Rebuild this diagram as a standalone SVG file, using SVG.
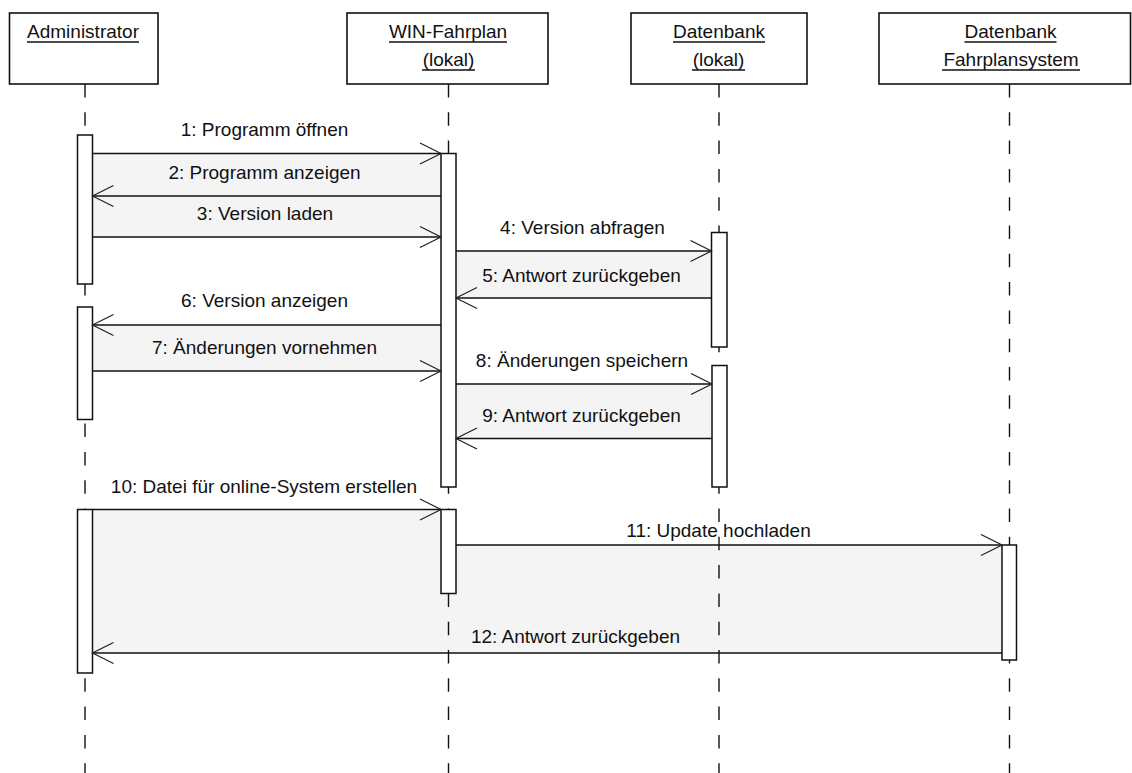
<svg xmlns="http://www.w3.org/2000/svg" width="1132" height="773" viewBox="0 0 1132 773">
<style>
  text { font-family: "Liberation Sans", Arial, sans-serif; font-size: 19px; fill: #111; }
  .box { fill: #fff; stroke: #111; stroke-width: 1.6; }
  .ul { stroke: #111; stroke-width: 1.3; }
  .life { stroke: #111; stroke-width: 1.4; stroke-dasharray: 13.5 14.8; fill: none; }
  .act { fill: #fff; stroke: #111; stroke-width: 1.5; }
  .band { fill: #f4f4f4; stroke: none; }
  .msg { stroke: #111; stroke-width: 1.5; fill: none; marker-end: url(#open); }
</style>
<defs>
  <marker id="open" markerUnits="userSpaceOnUse" markerWidth="24" markerHeight="24" viewBox="-1 -1 24 24" refX="21" refY="10.5" orient="auto">
    <path d="M0,0 L21,10.5 L0,21" fill="none" stroke="#222" stroke-width="1.2"/>
  </marker>
</defs>
<rect x="0" y="0" width="1132" height="773" fill="#fff"/>

<g id="message-bands">
  <rect class="band" x="92.5" y="153.5" width="348.5" height="83.5"/>
  <rect class="band" x="456" y="251" width="255.5" height="47"/>
  <rect class="band" x="92.5" y="325" width="348.5" height="46"/>
  <rect class="band" x="456" y="384" width="256" height="54.5"/>
  <rect class="band" x="92.5" y="509.5" width="348.5" height="143.5"/>
  <rect class="band" x="441" y="545" width="561" height="108"/>
</g>

<g id="administrator">
  <line class="life" x1="85" y1="84" x2="85" y2="773"/>
  <rect class="box" x="9.5" y="13" width="148.5" height="71"/>
  <text x="83" y="38" text-anchor="middle">Administrator</text>
  <line class="ul" x1="27" y1="42" x2="139" y2="42"/>
  <rect class="act" x="77.5" y="135" width="15" height="149"/>
  <rect class="act" x="77.5" y="307" width="15" height="112.5"/>
  <rect class="act" x="77.5" y="509.5" width="15" height="163.5"/>
</g>

<g id="win-fahrplan">
  <line class="life" x1="448.5" y1="84" x2="448.5" y2="773"/>
  <rect class="box" x="347" y="13" width="201" height="71"/>
  <text x="448" y="38" text-anchor="middle">WIN-Fahrplan</text>
  <line class="ul" x1="389" y1="42" x2="507" y2="42"/>
  <text x="448.5" y="66" text-anchor="middle">(lokal)</text>
  <line class="ul" x1="422" y1="70" x2="475" y2="70"/>
  <rect class="act" x="441" y="153.5" width="15" height="333.5"/>
  <rect class="act" x="441" y="509.5" width="15" height="84"/>
</g>

<g id="datenbank-lokal">
  <line class="life" x1="719" y1="84" x2="719" y2="773"/>
  <rect class="box" x="631" y="13" width="176" height="71"/>
  <text x="719" y="38" text-anchor="middle">Datenbank</text>
  <line class="ul" x1="673" y1="42" x2="765" y2="42"/>
  <text x="718.5" y="66" text-anchor="middle">(lokal)</text>
  <line class="ul" x1="692" y1="70" x2="745" y2="70"/>
  <rect class="act" x="711.5" y="232.5" width="15.5" height="114.5"/>
  <rect class="act" x="712" y="365.5" width="15" height="121.5"/>
</g>

<g id="datenbank-fahrplansystem">
  <line class="life" x1="1009.5" y1="84" x2="1009.5" y2="773"/>
  <rect class="box" x="879" y="13" width="251.5" height="71"/>
  <text x="1010.5" y="38" text-anchor="middle">Datenbank</text>
  <line class="ul" x1="964.5" y1="42" x2="1056.5" y2="42"/>
  <text x="1011" y="66" text-anchor="middle">Fahrplansystem</text>
  <line class="ul" x1="942" y1="70" x2="1080" y2="70"/>
  <rect class="act" x="1002" y="545" width="14.5" height="115"/>
</g>

<g id="connectors">
  <line class="msg" x1="92.5" y1="153.5" x2="441" y2="153.5"/>
  <text x="264.5" y="136" text-anchor="middle">1: Programm öffnen</text>
  <line class="msg" x1="441" y1="196" x2="92.5" y2="196"/>
  <text x="264.5" y="179" text-anchor="middle">2: Programm anzeigen</text>
  <line class="msg" x1="92.5" y1="237" x2="441" y2="237"/>
  <text x="265" y="220" text-anchor="middle">3: Version laden</text>
  <line class="msg" x1="456" y1="251" x2="711.5" y2="251"/>
  <text x="582.5" y="234" text-anchor="middle">4: Version abfragen</text>
  <line class="msg" x1="711.5" y1="298" x2="456" y2="298"/>
  <text x="581.5" y="281.5" text-anchor="middle">5: Antwort zurückgeben</text>
  <line class="msg" x1="441" y1="325" x2="92.5" y2="325"/>
  <text x="264.5" y="307" text-anchor="middle">6: Version anzeigen</text>
  <line class="msg" x1="92.5" y1="371" x2="441" y2="371"/>
  <text x="264.5" y="354" text-anchor="middle">7: Änderungen vornehmen</text>
  <line class="msg" x1="456" y1="384" x2="712" y2="384"/>
  <text x="582" y="366.5" text-anchor="middle">8: Änderungen speichern</text>
  <line class="msg" x1="712" y1="438.5" x2="456" y2="438.5"/>
  <text x="581.5" y="421.5" text-anchor="middle">9: Antwort zurückgeben</text>
  <line class="msg" x1="92.5" y1="509.5" x2="441" y2="509.5"/>
  <text x="264" y="492.5" text-anchor="middle">10: Datei für online-System erstellen</text>
  <line class="msg" x1="456" y1="545" x2="1002" y2="545"/>
  <text x="718.5" y="536.5" text-anchor="middle">11: Update hochladen</text>
  <line class="msg" x1="1002" y1="653" x2="92.5" y2="653"/>
  <text x="575.5" y="643" text-anchor="middle">12: Antwort zurückgeben</text>
</g>
</svg>
